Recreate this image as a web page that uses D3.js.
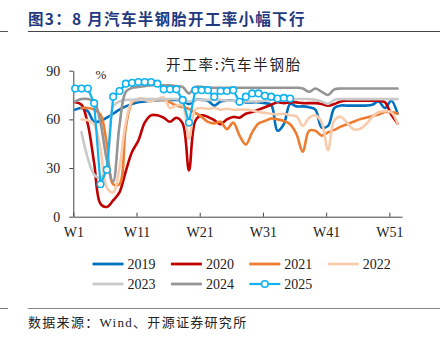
<!DOCTYPE html>
<html lang="zh">
<head>
<meta charset="UTF-8">
<title>开工率:汽车半钢胎</title>
<script src="https://cdn.jsdelivr.net/npm/d3@7"></script>
<style>
    body{ margin:0; background:#fff; }
    svg{ display:block; }
    .serif{ font-family:"Liberation Serif","Times New Roman","Noto Sans CJK SC",serif; }
    .cjk{ font-family:"Noto Sans CJK SC",sans-serif; }
</style>
</head>
<body>
<script type="text/javascript">

// week index 1..52
let weeks = d3.range(1, 53);
let xTickWeeks = [1, 11, 21, 31, 41, 51];
let yTicks = [0, 30, 60, 90];
let seriesNames = ["2019", "2020", "2021", "2022", "2023", "2024", "2025"];

let s2019 = [66, 67, 65, 58.5, 59, 61, 63.5, 66, 68, 69.5, 70.5, 71, 71.5, 71.8, 72, 72, 72, 71.5, 69.5, 72,
             72, 71.5, 68.5, 71, 71.5, 71.5, 71, 70.5, 70.5, 70.5, 70, 69, 53, 57, 69.5, 68, 68, 67.5, 66, 55,
             56, 67, 68.5, 68.5, 68.5, 68.5, 68.5, 69, 71, 67, 71.5, 63.5];
let s2020 = [70.5, 69, 57, 33, 8, 6, 10, 15, 28, 40, 47, 58, 62.5, 62.5, 61, 58.5, 61, 57.5, 28.5, 59,
             62.5, 61.5, 59.5, 57, 60, 61.5, 61, 63.5, 64.5, 66, 67.5, 69, 70.5, 70, 70.5, 70.5, 70, 70, 70, 69.5,
             68.5, 69.5, 71, 71.5, 71.5, 71.5, 71.5, 71.5, 71.5, 70.5, 63, 57.5];
let s2021 = [null, 67, 67, 66, 63, 45, 20, 20, 55, 70.5, 72.5, 72.5, 72, 72, 72, 70.5, 68.5, 67.5, 66.5, 64,
             61.5, 58.5, 57.5, 58.5, 54, 58, 50, 44.5, 52, 57.5, 59, 60.5, 60, 59, 57, 51, 40, 53, 53, 50,
             52, 53.5, 55.5, 57, 58.5, 60, 61, 62, 63, 64.5, 64.5, 63.5];
let s2022 = [null, 60, 59.5, 57, 42, 18, 15, 30, 58, 71, 72, 72, 71, 72.5, 73.5, 67, 68.5, 68.5, 48, 66,
             67, 66.5, 67, 66, 66.5, 66, 66, 66, 65.5, 64.5, 64, 63.5, 63, 63.5, 62.5, 62, 56, 61, 62.5, 58,
             41, 59.5, 61.5, 58, 54, 54, 57, 61.5, 64.5, 65, 64.5, 57.5];
let s2023 = [null, 52, 36, 26, 24, 30, 68, 71, 72, 72, 72.5, 72.5, 72.5, 72.5, 72.5, 72.5, 72.5, 72, 71, 72,
             72, 72, 72, 72, 71.5, 71.5, 71, 71, 71, 71, 71.5, 72, 72, 72, 72, 72.5, 72.5, 72.5, 72, 71,
             69.5, 72, 72.5, 72.5, 72.5, 72.5, 72.5, 72.5, 72.5, 72.5, 72.5, 72.5];
let s2024 = [71, 72.5, 72.5, 71, 58, 35, 21.5, 56, 77, 79.5, 80, 80.5, 81, 81, 81, 81, 80.5, 80, 76, 80,
             80, 79.5, 79.5, 79.5, 79.5, 79.5, 79.5, 79.5, 79.5, 79.5, 79.5, 79.5, 79.5, 79.5, 79.5, 79.5, 79, 77, 79, 77,
             75, 78.5, 79, 79, 79, 79, 79, 79, 79, 79, 79, 79];
let s2025 = [79, 79, 79, 70, 20, 29, 74, 77.5, 82, 82.5, 83, 83, 83, 82, 78.5, 78.5, 78.5, 72, 58, 78,
             78, 78, 74, 77.5, 77.5, 78, 70.8, 74, 76, 76, 74.5, 74, 72.8, 73.2, 72.8];

let colors = ["#0070C0", "#C00000", "#ED7D31", "#F8CBAD", "#C9C9C9", "#959595", "#10B2F0"];
let allSeries = [s2019, s2020, s2021, s2022, s2023, s2024, s2025];

let width = 445, height = 345;
let svg = d3.select("body").append("svg")
    .attr("width", width).attr("height", height);

// header / footer rules
svg.append("line").attr("x1", 0).attr("x2", 8).attr("y1", 31.5).attr("y2", 31.5)
    .attr("stroke", "#555").attr("stroke-width", 1);
svg.append("line").attr("x1", 28).attr("x2", 440).attr("y1", 31.5).attr("y2", 31.5)
    .attr("stroke", "#444").attr("stroke-width", 1.2);
svg.append("text").attr("class", "cjk").attr("x", 28).attr("y", 25)
    .attr("font-size", 15.5).attr("font-weight", "bold").attr("fill", "#1F3A80")
    .attr("letter-spacing", 1.3)
    .text("图3：8 月汽车半钢胎开工率小幅下行");

svg.append("line").attr("x1", 0).attr("x2", 8).attr("y1", 308.5).attr("y2", 308.5)
    .attr("stroke", "#777").attr("stroke-width", 1);
svg.append("line").attr("x1", 28).attr("x2", 440).attr("y1", 308.5).attr("y2", 308.5)
    .attr("stroke", "#888").attr("stroke-width", 1.2);
svg.append("text").attr("class", "serif").attr("x", 28).attr("y", 327)
    .attr("font-size", 13).attr("fill", "#222").attr("letter-spacing", 1.3)
    .text("数据来源：Wind、开源证券研究所");

// chart title
svg.append("text").attr("class", "cjk").attr("x", 234).attr("y", 70)
    .attr("text-anchor", "middle").attr("font-size", 14.5).attr("fill", "#222")
    .attr("letter-spacing", 1.8)
    .text("开工率:汽车半钢胎");

// scales
let x = d3.scaleLinear().domain([0.7, 52.7]).range([73.3, 402]);
let y = d3.scaleLinear().domain([0, 90]).range([216.7, 70.7]);

// axes
let xAxis = d3.axisBottom(x)
    .tickValues(xTickWeeks.map(w => w - 0.3))
    .tickFormat((d, i) => "W" + xTickWeeks[i])
    .tickSizeInner(-4).tickSizeOuter(0).tickPadding(10);
let xg = svg.append("g").attr("transform", "translate(0,216.7)").call(xAxis);
xg.selectAll("text").attr("class", "serif").attr("font-size", 14).attr("fill", "#222");
xg.selectAll("line,path").attr("stroke", "#444");

let yAxis = d3.axisLeft(y).tickValues(yTicks)
    .tickSizeInner(4).tickSizeOuter(0).tickPadding(9);
let yg = svg.append("g").attr("transform", "translate(73.3,0)").call(yAxis);
yg.selectAll("text").attr("class", "serif").attr("font-size", 14).attr("fill", "#222");
yg.selectAll("line,path").attr("stroke", "#444");

svg.append("text").attr("class", "serif").attr("x", 101).attr("y", 79)
    .attr("text-anchor", "middle").attr("font-size", 13).attr("fill", "#222").text("%");

// lines
allSeries.forEach((vals, i) => {
    let pts = vals.map((v, j) => ({ w: weeks[j], v: v }));
    let line = d3.line()
        .defined(d => d.v != null)
        .x(d => x(d.w))
        .y(d => y(d.v))
        .curve(i === 6 ? d3.curveLinear : d3.curveCatmullRom.alpha(0.5));
    svg.append("path")
        .datum(pts)
        .attr("fill", "none")
        .attr("stroke", colors[i])
        .attr("stroke-width", i === 6 ? 2.2 : 2.6)
        .attr("stroke-linejoin", "round")
        .attr("stroke-linecap", "round")
        .attr("d", line);
    if (i === 6) {
        svg.append("g").selectAll("circle")
            .data(pts)
            .join("circle")
            .attr("cx", d => x(d.w))
            .attr("cy", d => y(d.v))
            .attr("r", 3.3)
            .attr("fill", "#fff")
            .attr("stroke", colors[i])
            .attr("stroke-width", 1.6);
    }
});

// legend
let legend = svg.append("g");
seriesNames.forEach((name, i) => {
    let col = i % 4, row = Math.floor(i / 4);
    let lx = 92.5 + col * 78.4, ly = 264 + row * 20;
    let g = legend.append("g").attr("transform", `translate(${lx},${ly})`);
    g.append("line").attr("x1", 0).attr("x2", 31).attr("y1", 0).attr("y2", 0)
        .attr("stroke", colors[i]).attr("stroke-width", i === 6 ? 2.2 : 2.8);
    if (i === 6) {
        g.append("circle").attr("cx", 15.5).attr("cy", 0).attr("r", 3.3)
            .attr("fill", "#fff").attr("stroke", colors[i]).attr("stroke-width", 1.6);
    }
    g.append("text").attr("class", "serif").attr("x", 35).attr("y", 5)
        .attr("font-size", 14).attr("fill", "#222").text(name);
});

</script>
</body>
</html>
